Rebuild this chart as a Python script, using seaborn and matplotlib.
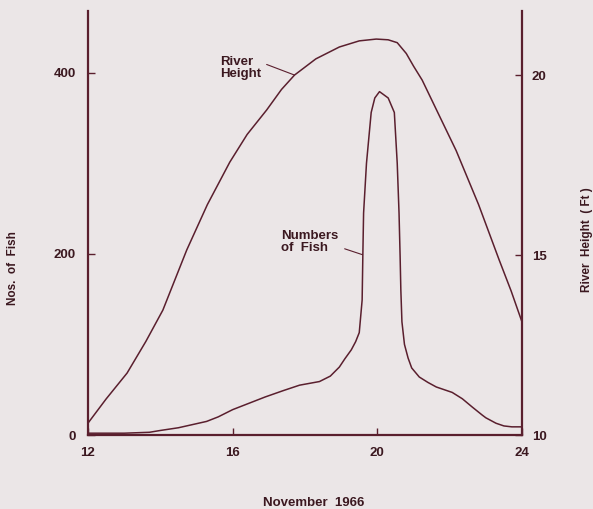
import numpy as np
import pandas as pd
import matplotlib
matplotlib.use('Agg')
import matplotlib.pyplot as plt
import seaborn as sns

# valores
dias_rio = [12, 12.5, 13.08, 13.6, 14.07, 14.73, 15.3, 15.92, 16.4, 16.94, 17.35, 17.71,
            18.3, 18.95, 19.5, 19.97, 20.3, 20.55, 20.8, 21.0, 21.24, 21.7, 22.18, 22.8,
            23.37, 23.7, 24]
altura_rio = [10.33, 11.0, 11.72, 12.6, 13.47, 15.14, 16.4, 17.58, 18.35, 19.03, 19.6, 20.0,
              20.45, 20.78, 20.95, 21.0, 20.98, 20.9, 20.6, 20.25, 19.86, 18.9, 17.9, 16.4,
              14.86, 14.0, 13.14]

dias_peixe = [12, 12.5, 13.0, 13.7, 14.0, 14.5, 15.28, 15.6, 16.0, 16.9, 17.4, 17.85, 18.4,
              18.7, 18.95, 19.1, 19.28, 19.4, 19.5, 19.58, 19.6, 19.62, 19.7, 19.83, 19.93,
              20.06, 20.3, 20.47, 20.55, 20.6, 20.63, 20.65, 20.68, 20.75, 20.85, 20.95,
              21.16, 21.4, 21.63, 22.07, 22.35, 22.62, 22.9, 23.0, 23.28, 23.5, 23.72, 24]
num_peixes = [2, 2, 2, 3, 5, 8, 15, 20, 28, 42, 49, 55, 59,
              65, 75, 84, 94, 103, 113, 149, 200, 245, 300, 356, 372,
              379, 372, 356, 300, 245, 197, 160, 125, 100, 85, 74,
              64, 58, 53, 47, 40, 31, 22, 19, 13, 10, 9, 9]

ticks_x = [12, 16, 20, 24]
ticks_peixe = [0, 200, 400]
ticks_rio = [10, 15, 20]

cor_linha = '#5a1f2e'
cor_texto = '#3b1820'
fundo = '#ebe6e7'

sns.set_theme(style='ticks', rc={'figure.facecolor': fundo, 'axes.facecolor': fundo,
                                 'axes.edgecolor': cor_linha, 'xtick.color': cor_linha,
                                 'ytick.color': cor_linha, 'text.color': cor_texto,
                                 'xtick.labelcolor': cor_texto, 'ytick.labelcolor': cor_texto})
plt.rcParams['font.family'] = ['Liberation Sans', 'DejaVu Sans']

df_rio = pd.DataFrame({'dia': dias_rio, 'altura': altura_rio})
df_peixe = pd.DataFrame({'dia': dias_peixe, 'n': num_peixes})

fig = plt.figure(figsize=(5.93, 5.09), dpi=100)
ax = fig.add_axes([88 / 593, 74 / 509, 434 / 593, 424 / 509])
ax2 = ax.twinx()

sns.lineplot(data=df_peixe, x='dia', y='n', ax=ax, sort=False, estimator=None,
             color=cor_linha, lw=1.1)
sns.lineplot(data=df_rio, x='dia', y='altura', ax=ax2, sort=False, estimator=None,
             color=cor_linha, lw=1.1)

ax.set_xlim(12, 24)
ax.set_ylim(0, 468)
ax2.set_ylim(10, 21.78)
ax.set_xticks(ticks_x)
ax.set_yticks(ticks_peixe)
ax2.set_yticks(ticks_rio)
ax.set_xlabel('')
ax.set_ylabel('')
ax2.set_ylabel('')

for a in (ax, ax2):
    a.spines['top'].set_visible(False)
    for s in ('left', 'right', 'bottom'):
        a.spines[s].set_linewidth(1.6)
        a.spines[s].set_color(cor_linha)
ax.spines['right'].set_visible(False)
ax2.spines['left'].set_visible(False)
ax2.spines['bottom'].set_visible(False)

ax.tick_params(axis='both', direction='in', length=5, width=1, labelsize=9.5, pad=9)
ax2.tick_params(axis='y', direction='in', length=5, width=1, labelsize=9.5, pad=7)
for lab in ax.get_xticklabels() + ax.get_yticklabels() + ax2.get_yticklabels():
    lab.set_fontweight('bold')

ax2.annotate('River\nHeight', xy=(17.71, 20.0), xytext=(15.64, 20.19),
             ha='left', va='center', fontsize=9.5, fontweight='bold', linespacing=1.0,
             arrowprops=dict(arrowstyle='-', color=cor_linha, lw=0.8, shrinkA=2, shrinkB=0,
                             relpos=(1.0, 0.75)))
ax.annotate('Numbers\nof  Fish', xy=(19.59, 199), xytext=(17.35, 213),
            ha='left', va='center', fontsize=9.5, fontweight='bold', linespacing=1.0,
            arrowprops=dict(arrowstyle='-', color=cor_linha, lw=0.8, shrinkA=2, shrinkB=0,
                            relpos=(1.0, 0.3)))

fig.text(13 / 593, 1 - 268 / 509, 'Nos.  of  Fish', rotation=90, ha='center', va='center',
         fontsize=8.5, fontweight='bold')
fig.text(587 / 593, 1 - 240 / 509, 'River  Height  ( Ft )', rotation=90, ha='center',
         va='center', fontsize=8.5, fontweight='bold')
fig.text(314 / 593, 1 - 503 / 509, 'November  1966', ha='center', va='center',
         fontsize=9.5, fontweight='bold')

fig.savefig('out.png', dpi=100, facecolor=fundo)
